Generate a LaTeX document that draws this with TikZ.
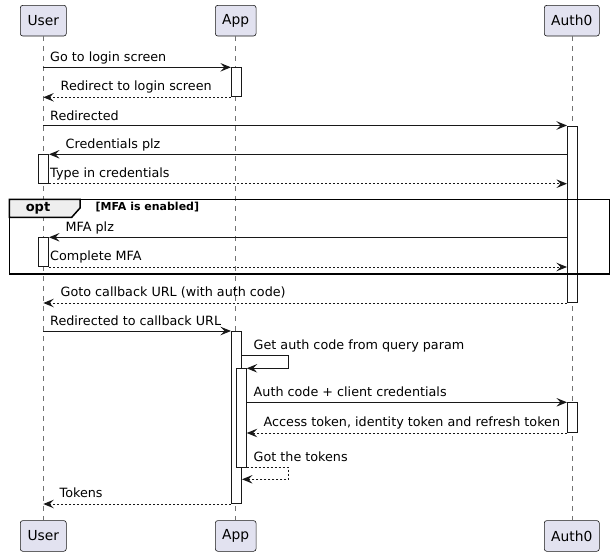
\documentclass[tikz,border=0pt]{standalone}
\usepackage{fontspec}
\setmainfont{DejaVu Sans}
\usetikzlibrary{arrows.meta,calc}
\definecolor{partfill}{HTML}{E2E2F0}
\definecolor{lineclr}{HTML}{181818}
\definecolor{tabfill}{HTML}{EEEEEE}
\tikzset{
  part/.style={draw=lineclr, fill=partfill, line width=0.6pt, rounded corners=2.5pt, inner sep=0pt, minimum height=30.7pt, font=\fontsize{13.8}{16}\selectfont},
  life/.style={draw=black!55, line width=0.6pt, dash pattern=on 5pt off 5pt},
  act/.style={draw=lineclr, fill=white, line width=1pt, inner sep=0pt, minimum width=10pt, anchor=north},
  msg/.style={draw=lineclr, line width=1pt, -{Stealth[length=10.5pt,width=8.5pt,inset=4pt]}},
  ret/.style={msg, dash pattern=on 2pt off 2pt},
  lbl/.style={anchor=base west, inner sep=0pt, font=\fontsize{12.75}{15}\selectfont},
  frm/.style={draw=black, line width=1.5pt},
}
\begin{document}
\begin{tikzpicture}[x=1pt,y=-1pt]
\useasboundingbox (0,0) rectangle (614,555);
% participants
\node[part, minimum width=46pt, anchor=north] (uT) at (43.3,5) {User};
\node[part, minimum width=40.7pt, anchor=north] (aT) at (235.7,5) {App};
\node[part, minimum width=55pt, anchor=north] (zT) at (571.8,5) {Auth0};
\node[part, minimum width=46pt, anchor=north] (uB) at (43.3,520.3) {User};
\node[part, minimum width=40.7pt, anchor=north] (aB) at (235.7,520.3) {App};
\node[part, minimum width=55pt, anchor=north] (zB) at (571.8,520.3) {Auth0};
% lifelines
\draw[life] (uT.south) -- (uB.north);
\draw[life] (aT.south) -- (aB.north);
\draw[life] (zT.south) -- (zB.north);
% activations
\node[act, minimum height=29pt] (aA1) at (236.4,67.3) {};
\node[act, minimum height=176.5pt] (aZ1) at (572.5,125.5) {};
\node[act, minimum height=28.4pt] (aU1) at (43.5,154.3) {};
\node[act, minimum height=28.7pt] (aU2) at (43.5,237.3) {};
\node[act, minimum height=172pt] (aA2) at (236.5,331) {};
\node[act, minimum height=98.4pt] (aA3) at (241.2,368.3) {};
\node[act, minimum height=29.7pt] (aZ2) at (572.5,402.3) {};
% messages
\draw[msg] (uT.south |- aA1.north) -- (aA1.north west);
\node[lbl] (t1) at (50,61.8) {Go to login screen};
\draw[ret] (aA1.south west) -- (uT.south |- aA1.south);
\node[lbl] (t2) at (60.5,90.8) {Redirect to login screen};
\draw[msg] (uT.south |- aZ1.north) -- (aZ1.north west);
\node[lbl] (t3) at (50,120) {Redirected};
\draw[msg] (aZ1.west |- aU1.north) -- (aU1.north east);
\node[lbl] (t4) at (65.5,148.8) {Credentials plz};
\draw[ret] (aU1.south east) -- (aZ1.west |- aU1.south);
\node[lbl] (t5) at (50,177.2) {Type in credentials};
% opt frame
\coordinate (fTL) at (9.3,199.3);
\coordinate (fBR) at (609.3,274);
\draw[frm, fill=tabfill] (fTL) -- (80,199.3) -- (80,208) -- (71.7,217.3) -- (9.3,217.3) -- cycle;
\node[anchor=base, inner sep=0pt, font=\fontsize{13}{15}\bfseries] (opt) at (38,211.5) {opt};
\node[anchor=base west, inner sep=0pt, font=\fontsize{11}{13}\bfseries] (cond) at (95.5,210.3) {[MFA is enabled]};
\draw[msg] (aZ1.west |- aU2.north) -- (aU2.north east);
\node[lbl] (t6) at (65.5,231.8) {MFA plz};
\draw[ret] (aU2.south east) -- (aZ1.west |- aU2.south);
\node[lbl] (t7) at (50,260.5) {Complete MFA};
\draw[frm] (fTL) rectangle (fBR);
\draw[ret] (aZ1.south west) -- (uT.south |- aZ1.south);
\node[lbl] (t8) at (60.5,296.5) {Goto callback URL (with auth code)};
\draw[msg] (uT.south |- aA2.north) -- (aA2.north west);
\node[lbl] (t9) at (50,325.5) {Redirected to callback URL};
% self message 1
\coordinate (s1) at (288.7,355.3);
\draw[msg] (aA2.east |- s1) -- (s1) -- (s1 |- aA3.north) -- (aA3.north east);
\node[lbl] (t10) at (253.5,349.8) {Get auth code from query param};
\draw[msg] (aA3.east |- aZ2.north) -- (aZ2.north west);
\node[lbl] (t11) at (253.5,396.8) {Auth code + client credentials};
\draw[ret] (aZ2.south west) -- (aA3.east |- aZ2.south);
\node[lbl] (t12) at (263.5,426.5) {Access token, identity token and refresh token};
% self message 2
\coordinate (s2) at (288.7,479.3);
\draw[ret] (aA3.south east) -- (s2 |- aA3.south) -- (s2) -- (aA2.east |- s2);
\node[lbl] (t13) at (253.5,461.2) {Got the tokens};
\draw[ret] (aA2.south west) -- (uT.south |- aA2.south);
\node[lbl] (t14) at (59.5,497.5) {Tokens};
\end{tikzpicture}
\end{document}
